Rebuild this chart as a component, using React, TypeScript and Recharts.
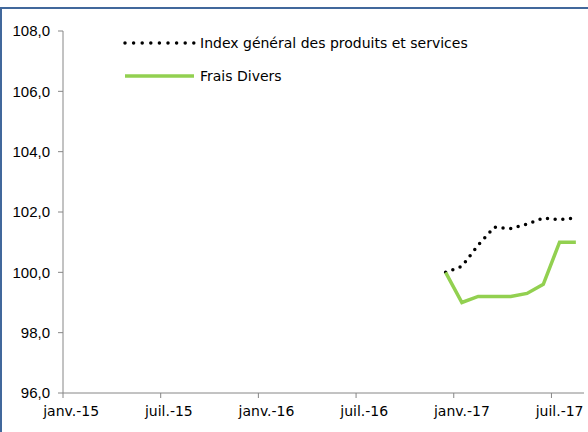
import { LineChart, Line, XAxis, YAxis } from "recharts";

// mois couverts par les séries (déc.-16 -> août-17)
const MOIS = [
  "déc.-16",
  "janv.-17",
  "févr.-17",
  "mars-17",
  "avr.-17",
  "mai-17",
  "juin-17",
  "juil.-17",
  "août-17",
];
// position du premier mois depuis janv.-15 (0 = janv.-15)
const PREMIER_MOIS = 23;

const INDEX_GENERAL = [100.0, 100.2, 100.9, 101.5, 101.45, 101.6, 101.8, 101.75, 101.8];
const FRAIS_DIVERS = [100.0, 99.0, 99.2, 99.2, 99.2, 99.3, 99.6, 101.0, 101.0];

const X_TICKS = [0, 6, 12, 18, 24, 30];
const X_LABELS = ["janv.-15", "juil.-15", "janv.-16", "juil.-16", "janv.-17", "juil.-17"];
const NB_MOIS = 32;
const Y_TICKS = [96, 98, 100, 102, 104, 106, 108];

const SERIES = [
  { key: "general", name: "Index général des produits et services" },
  { key: "frais", name: "Frais Divers" },
];

const COLORS = {
  general: "#000000",
  frais: "#92D050",
  axis: "#868686",
  frame: "#41689C",
};

const WIDTH = 588;
const HEIGHT = 432;
const X_HEIGHT = 30;
const MARGIN = { top: 31, right: 4, bottom: 39 - X_HEIGHT, left: 0 };
const Y_WIDTH = 63;
const HALF_MONTH = (WIDTH - MARGIN.right - Y_WIDTH) / NB_MOIS / 2;

const data = MOIS.map((mois, i) => ({
  mois,
  x: PREMIER_MOIS + i + 0.5,
  general: INDEX_GENERAL[i],
  frais: FRAIS_DIVERS[i],
}));

// étiquette centrée sur le mois, la graduation reste sur la limite
const MonthTick = ({ x, y, payload }: any) => {
  const idx = X_TICKS.indexOf(payload.value);
  return (
    <text
      x={x + HALF_MONTH}
      y={y}
      dy={16}
      textAnchor="middle"
      fontFamily="DejaVu Sans"
      fontSize={14}
      fill="#000"
    >
      {X_LABELS[idx]}
    </text>
  );
};

// légende posée dans la zone de tracé
const ChartLegend = () => (
  <div
    style={{
      position: "absolute",
      left: 121,
      top: 33,
      fontFamily: "DejaVu Sans",
      fontSize: 14,
      color: "#000",
    }}
  >
    {SERIES.map((s, i) => (
      <div
        key={s.key}
        style={{ display: "flex", alignItems: "center", height: 20, marginBottom: i === 0 ? 13 : 0 }}
      >
        <svg width={79} height={10}>
          {s.key === "general" ? (
            <line
              x1={4}
              y1={5}
              x2={74}
              y2={5}
              stroke={COLORS.general}
              strokeWidth={3.5}
              strokeDasharray="0 8.6"
              strokeLinecap="round"
            />
          ) : (
            <line x1={4} y1={5} x2={73} y2={5} stroke={COLORS.frais} strokeWidth={3.5} />
          )}
        </svg>
        <span>{s.name}</span>
      </div>
    ))}
  </div>
);

export default function App() {
  return (
    <div style={{ position: "absolute", left: 0, top: 0, width: WIDTH, height: HEIGHT, background: "#fff" }}>
      <div
        style={{
          position: "absolute",
          left: 0,
          top: 7,
          width: WIDTH - 2,
          height: HEIGHT - 9,
          borderLeft: `2px solid ${COLORS.frame}`,
          borderTop: `2px solid ${COLORS.frame}`,
        }}
      />
      <div style={{ position: "absolute", left: 0, top: 0 }}>
        <LineChart width={WIDTH} height={HEIGHT} data={data} margin={MARGIN}>
          <XAxis
            dataKey="x"
            type="number"
            domain={[0, NB_MOIS]}
            ticks={X_TICKS}
            interval={0}
            height={X_HEIGHT}
            stroke={COLORS.axis}
            tickSize={5}
            tick={<MonthTick />}
            allowDataOverflow
          />
          <YAxis
            type="number"
            domain={[96, 108]}
            ticks={Y_TICKS}
            interval={0}
            width={Y_WIDTH}
            stroke={COLORS.axis}
            tickSize={5}
            tickMargin={8}
            tickFormatter={(v: number) => v.toFixed(1).replace(".", ",")}
            tick={{ fill: "#000", fontFamily: "Liberation Sans", fontSize: 15 }}
          />
          <Line
            dataKey="general"
            name={SERIES[0].name}
            stroke={COLORS.general}
            strokeWidth={3.5}
            strokeDasharray="0 7.7"
            strokeLinecap="round"
            dot={false}
            isAnimationActive={false}
          />
          <Line
            dataKey="frais"
            name={SERIES[1].name}
            stroke={COLORS.frais}
            strokeWidth={3.5}
            dot={false}
            isAnimationActive={false}
          />
        </LineChart>
      </div>
      <ChartLegend />
    </div>
  );
}
